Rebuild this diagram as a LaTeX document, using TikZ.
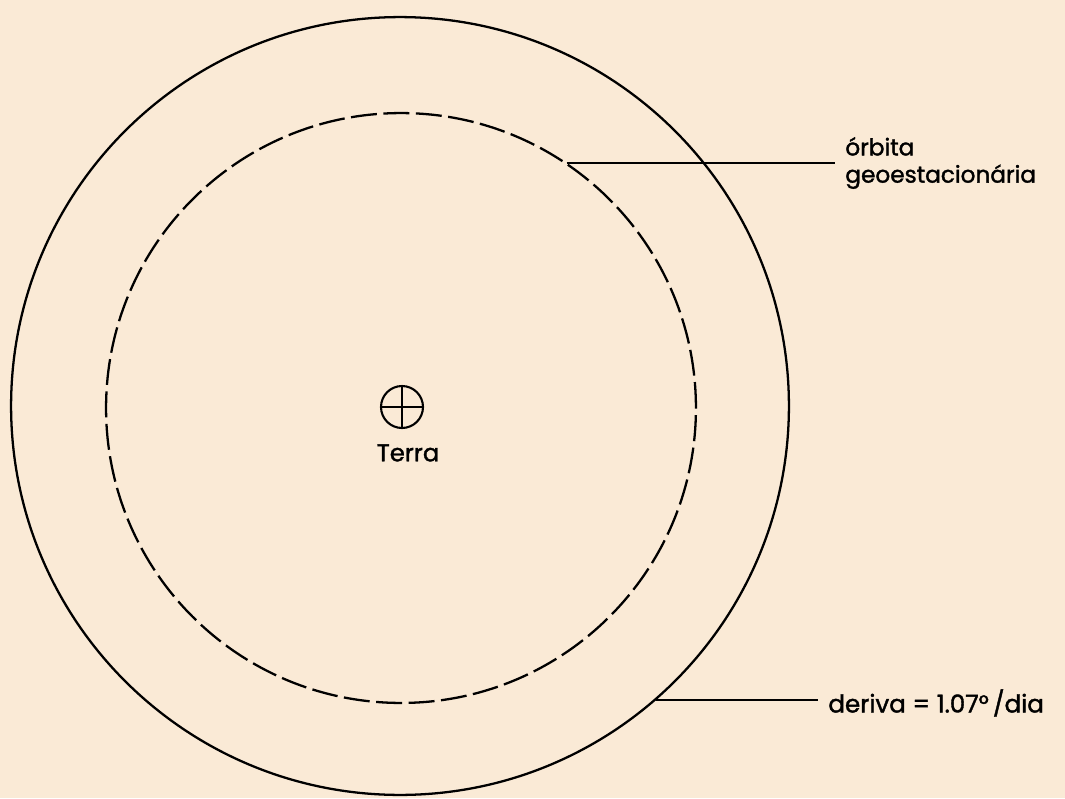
\documentclass[tikz,border=0pt]{standalone}
\usepackage{fontspec}
\setmainfont{Poppins}[FakeBold=1.5]
\usetikzlibrary{positioning}
\definecolor{paper}{RGB}{250,234,214}
\begin{document}
\begin{tikzpicture}[x=0.02cm,y=-0.02cm,
  ring/.style={circle,draw,line width=1.3pt,inner sep=0pt},
  notetext/.style={font=\fontsize{13.2}{15.5}\selectfont,align=left,inner xsep=0.2cm,inner ysep=0pt}]

% Fond
\fill[paper] (0,0) rectangle (1065,798);
\useasboundingbox (0,0) rectangle (1065,798);

% Orbites
\node[ring,minimum size=15.56cm] (drift) at (400,406) {};
\node[ring,dash pattern=on 14.8pt off 3.7pt,minimum size=11.8cm] (geo) at (401,408) {};

% Terre
\node[circle,draw,line width=1.2pt,minimum size=0.84cm,inner sep=0pt] (earth) at (402,407) {};
\draw[line width=1.2pt] (earth.north) -- (earth.south) (earth.west) -- (earth.east);
\node[notetext,font=\fontsize{13.8}{16}\selectfont,below=0.3cm of earth,xshift=0.12cm] (terra) {Terra};

% Legendes
\node[notetext,anchor=west] (geolabel) at (835,163) {órbita\\geoestacionária};
\draw[line width=1.1pt] (geo.56.5) -- (geo.56.5 -| geolabel.west);

\node[notetext,font=\fontsize{14}{16}\selectfont,anchor=west] (driftlabel) at (818,703) {deriva = 1.07°\,/dia};
\draw[line width=1.1pt] (drift.-49) -- (drift.-49 -| driftlabel.west);

\end{tikzpicture}
\end{document}
